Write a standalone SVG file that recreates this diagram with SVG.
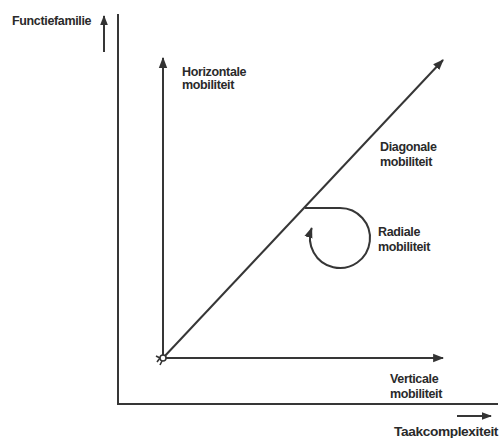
<svg xmlns="http://www.w3.org/2000/svg" width="500" height="438" viewBox="0 0 500 438">
<defs>
<marker id="ah" viewBox="0 0 10 10" refX="9" refY="5" markerWidth="5.5" markerHeight="5.5" orient="auto" markerUnits="strokeWidth">
<path d="M0,1.2 L10,5 L0,8.8 z" fill="#333"/>
</marker>
<marker id="ahs" viewBox="0 0 10 10" refX="9" refY="5" markerWidth="5" markerHeight="5" orient="auto" markerUnits="strokeWidth">
<path d="M0,1.2 L10,5 L0,8.8 z" fill="#333"/>
</marker>
</defs>
<style>
.ln{stroke:#363636;stroke-width:2;fill:none}
.tx{font-family:"Liberation Sans",Arial,sans-serif;font-weight:bold;font-size:12.5px;fill:#2a2a2a;letter-spacing:-0.35px}
</style>
<rect width="500" height="438" fill="#fff"/>
<g id="connectors">
<path class="ln" d="M118,14 V404 H498"/>
<path class="ln" d="M104,52 V16" marker-end="url(#ahs)"/>
<path class="ln" d="M457,416 H491" marker-end="url(#ahs)"/>
<path class="ln" d="M163,358 V58" marker-end="url(#ah)"/>
<path class="ln" d="M163,358 H443" marker-end="url(#ah)"/>
<path class="ln" d="M163,358 L443,60" marker-end="url(#ah)"/>
<path class="ln" d="M305,208 H340 A30,30 0 1 1 311.7,228" marker-end="url(#ah)"/>
</g>
<g id="origin">
<path d="M157,362 L160,358 M156,356 L160,358 M160,365 L162,361 M166,356 L163,358" stroke="#333" stroke-width="1.6" fill="none"/>
<circle cx="163" cy="358" r="3" fill="#fff" stroke="#333" stroke-width="1.5"/>
</g>
<g id="functiefamilie"><text class="tx" x="12" y="25">Functiefamilie</text></g>
<g id="horizontale"><text class="tx" x="182" y="76">Horizontale</text><text class="tx" x="182" y="89">mobiliteit</text></g>
<g id="diagonale"><text class="tx" x="380" y="151">Diagonale</text><text class="tx" x="380" y="166">mobiliteit</text></g>
<g id="radiale"><text class="tx" x="378" y="236">Radiale</text><text class="tx" x="378" y="251">mobiliteit</text></g>
<g id="verticale"><text class="tx" x="390" y="383">Verticale</text><text class="tx" x="390" y="398">mobiliteit</text></g>
<g id="taakcomplexiteit"><text class="tx" x="394" y="436" textLength="104" lengthAdjust="spacingAndGlyphs">Taakcomplexiteit</text></g>
</svg>
